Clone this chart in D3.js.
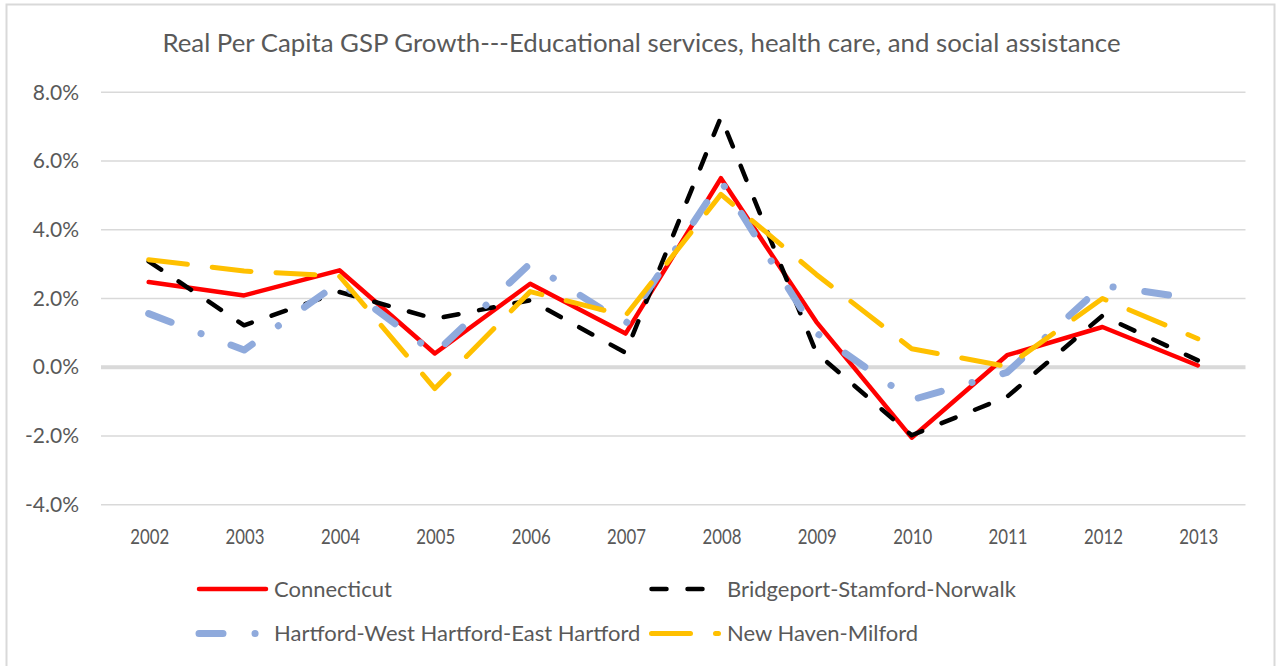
<!DOCTYPE html>
<html>
<head>
<meta charset="utf-8">
<script src="https://cdn.jsdelivr.net/npm/d3@7"></script>
<style>
  html, body { margin: 0; padding: 0; background: #fff; }
  svg { display: block; }
  text { font-family: Lato, "Open Sans", sans-serif; fill: #595959; }
</style>
</head>
<body>
<svg id="chart" width="1276" height="666"></svg>
<script>
const title = "Real Per Capita GSP Growth---Educational services, health care, and social assistance";
const years = ["2002","2003","2004","2005","2006","2007","2008","2009","2010","2011","2012","2013"];
const yTicks = [-4, -2, 0, 2, 4, 6, 8];

const connecticut = [2.48, 2.09, 2.82, 0.40, 2.43, 0.98, 5.50, 1.32, -2.05, 0.35, 1.17, 0.05];
const bridgeport  = [3.08, 1.22, 2.19, 1.41, 1.95, 0.42, 7.28, 0.42, -1.98, -0.86, 1.50, 0.20];
const hartford    = [1.56, 0.50, 2.47, 0.40, 3.02, 1.25, 5.42, 1.00, -0.95, -0.15, 2.38, 1.98];
const newHaven    = [3.13, 2.80, 2.65, -0.62, 2.20, 1.50, 5.03, 2.70, 0.54, 0.02, 2.00, 0.83];

const seriesNames = ["Connecticut", "Bridgeport-Stamford-Norwalk", "Hartford-West Hartford-East Hartford", "New Haven-Milford"];
const seriesValues = [connecticut, bridgeport, hartford, newHaven];

const styles = [
  { color: "#FF0000", width: 4.5, dash: null },
  { color: "#000000", width: 4.5, dash: "15,21" },
  { color: "#8FAADC", width: 7,   dash: "24,32,0.1,32" },
  { color: "#FFC000", width: 5,   dash: "39,25" }
];

const svg = d3.select("#chart");

// chart border
svg.append("rect")
  .attr("x", 6.5).attr("y", 4.5)
  .attr("width", 1268).attr("height", 670)
  .attr("fill", "none").attr("stroke", "#D9D9D9").attr("stroke-width", 2);

const x = d3.scalePoint().domain(years).range([101, 1245.5]).padding(0.5);
const y = d3.scaleLinear().domain([-4, 8]).range([504.7, 92.3]);

// gridlines
svg.append("g").selectAll("line")
  .data(yTicks.filter(d => d !== 0))
  .join("line")
  .attr("x1", 101).attr("x2", 1245.5)
  .attr("y1", d => y(d)).attr("y2", d => y(d))
  .attr("stroke", "#D9D9D9").attr("stroke-width", 1.5);

// y axis labels
const pct = d => d3.format(".1f")(d).replace("\u2212", "-") + "%";
const yAxis = d3.axisLeft(y).tickValues(yTicks).tickFormat(pct).tickSize(0).tickPadding(22);
const yg = svg.append("g").attr("transform", "translate(101,0)").call(yAxis);
yg.select(".domain").remove();
yg.selectAll("text").attr("font-size", 21).attr("fill", "#595959")
  .style("font-family", "Lato, 'Open Sans', sans-serif");

// zero axis line
svg.append("line")
  .attr("x1", 101).attr("x2", 1245.5)
  .attr("y1", y(0)).attr("y2", y(0))
  .attr("stroke", "#D9D9D9").attr("stroke-width", 4);

// x axis labels (at bottom)
const xAxis = d3.axisBottom(x).tickSize(0).tickPadding(0);
const xg = svg.append("g").call(xAxis);
xg.select(".domain").remove();
xg.selectAll(".tick").attr("transform", d => `translate(${x(d) + 1},544)`);
xg.selectAll("text")
  .attr("y", 0).attr("dy", 0)
  .attr("font-size", 21).attr("fill", "#595959")
  .attr("transform", "scale(0.8,1)")
  .style("font-family", "Lato, 'Open Sans', sans-serif");

// lines
const line = d3.line().x((d, i) => x(years[i])).y(d => y(d));
seriesValues.forEach((vals, i) => {
  const s = styles[i];
  svg.append("path")
    .datum(vals)
    .attr("d", line)
    .attr("fill", "none")
    .attr("stroke", s.color)
    .attr("stroke-width", s.width)
    .attr("stroke-linecap", "round")
    .attr("stroke-linejoin", "round")
    .attr("stroke-dasharray", s.dash);
});

// title
svg.append("text")
  .attr("x", 641.5).attr("y", 52)
  .attr("text-anchor", "middle")
  .attr("font-size", 25.8)
  .text(title);

// legend
const legendPos = [
  { lx: 199, ly: 589, tx: 274, ty: 597 },
  { lx: 651.5, ly: 589, tx: 727, ty: 597 },
  { lx: 199, ly: 633.5, tx: 274, ty: 641 },
  { lx: 651.5, ly: 633.5, tx: 727, ty: 641 }
];
const lg = svg.append("g");
seriesNames.forEach((name, i) => {
  const s = styles[i];
  const p = legendPos[i];
  lg.append("line")
    .attr("x1", p.lx).attr("x2", p.lx + 67)
    .attr("y1", p.ly).attr("y2", p.ly)
    .attr("stroke", s.color)
    .attr("stroke-width", s.width)
    .attr("stroke-linecap", "round")
    .attr("stroke-dasharray", s.dash);
  lg.append("text")
    .attr("x", p.tx).attr("y", p.ty)
    .attr("font-size", 22)
    .text(name);
});
</script>
</body>
</html>
